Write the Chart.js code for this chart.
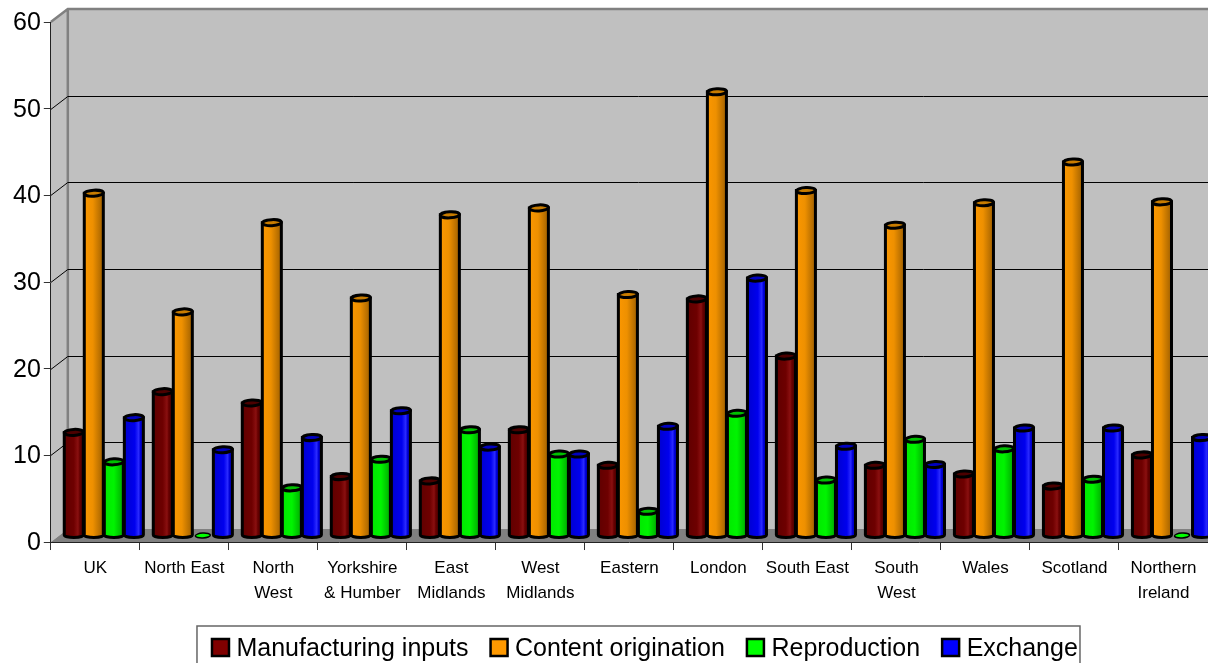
<!DOCTYPE html>
<html>
<head>
<meta charset="utf-8">
<title>Creative industries by region</title>
<script src="https://cdn.jsdelivr.net/npm/chart.js@4/dist/chart.umd.min.js"></script>
<style>
  html, body { margin: 0; padding: 0; background: #fff; overflow: hidden; }
  #wrap { position: relative; width: 1208px; height: 663px; }
</style>
</head>
<body>
<div id="wrap"><canvas id="myChart" width="1208" height="663"></canvas></div>
<script>
var regions = ['UK', 'North East', ['North', 'West'], ['Yorkshire', '& Humber'], ['East', 'Midlands'],
  ['West', 'Midlands'], 'Eastern', 'London', 'South East', ['South', 'West'], 'Wales', 'Scotland', ['Northern', 'Ireland']];
var yTicks = [0, 10, 20, 30, 40, 50, 60];

var manufacturing = [11.9, 16.6, 15.3, 6.8, 6.3, 12.2, 8.1, 27.3, 20.7, 8.1, 7.1, 5.7, 9.3];
var content = [39.5, 25.8, 36.1, 27.4, 37.0, 37.8, 27.8, 51.2, 39.8, 35.8, 38.4, 43.1, 38.5];
var reproduction = [8.5, 0, 5.5, 8.8, 12.2, 9.4, 2.8, 14.1, 6.4, 11.1, 10.0, 6.5, 0];
var exchange = [13.6, 9.9, 11.3, 14.4, 10.2, 9.4, 12.6, 29.7, 10.3, 8.2, 12.4, 12.4, 11.3];

var seriesNames = ['Manufacturing inputs', 'Content origination', 'Reproduction', 'Exchange'];
var seriesColors = ['#800000', '#FF9900', '#00FF00', '#0000FF'];
// colour stops across each cylinder, left to right
var shades = [
  [[0, '#600000'], [0.5, '#6e0000'], [0.72, '#8a1010'], [0.82, '#640000'], [1, '#560000']],
  [[0, '#fb9700'], [0.45, '#ee9000'], [1, '#a06000']],
  [[0, '#00e800'], [0.5, '#00f400'], [1, '#00a800']],
  [[0, '#0000d0'], [0.55, '#0000ee'], [0.75, '#2a2aff'], [0.85, '#0000d8'], [1, '#0000a0']]
];
var capColors = ['#4c0000', '#c87c00', '#00c000', '#0000c0'];

// depth of the 3D box, in pixels
var depthX = 17, depthY = -13;
var barShiftX = 8.5, barShiftY = -6.5;

var wallPlugin = {
  id: 'wall',
  beforeDraw: function (chart) {
    var c = chart.ctx, a = chart.chartArea, y = chart.scales.y;
    c.save();
    c.fillStyle = '#C0C0C0';
    c.fillRect(a.left + depthX, a.top + depthY, a.right - a.left, a.bottom - a.top);
    c.beginPath();
    c.moveTo(a.left, a.top);
    c.lineTo(a.left + depthX, a.top + depthY);
    c.lineTo(a.left + depthX, a.bottom + depthY);
    c.lineTo(a.left, a.bottom);
    c.closePath();
    c.fill();
    // floor
    c.fillStyle = '#808080';
    c.beginPath();
    c.moveTo(a.left, a.bottom);
    c.lineTo(a.left + depthX, a.bottom + depthY);
    c.lineTo(a.right + depthX, a.bottom + depthY);
    c.lineTo(a.right, a.bottom);
    c.closePath();
    c.fill();
    // wall edges
    c.strokeStyle = '#808080';
    c.lineWidth = 2.5;
    c.beginPath();
    c.moveTo(a.left, a.top);
    c.lineTo(a.left + depthX, a.top + depthY);
    c.lineTo(a.right + depthX, a.top + depthY);
    c.moveTo(a.left + depthX, a.top + depthY);
    c.lineTo(a.left + depthX, a.bottom + depthY);
    c.stroke();
    // gridlines
    c.strokeStyle = '#000';
    c.lineWidth = 1;
    yTicks.slice(1, -1).forEach(function (v) {
      var py = Math.round(y.getPixelForValue(v)) + 0.5;
      c.beginPath();
      c.moveTo(a.left, py);
      c.lineTo(a.left + depthX, py + depthY);
      c.lineTo(a.right + depthX, py + depthY);
      c.stroke();
    });
    c.restore();
  },
  afterUpdate: function (chart) {
    // legend sits off centre, over the lower edge of the page
    var lg = chart.legend, sx = 15, sy = 4;
    lg.left += sx; lg.right += sx;
    lg.top += sy; lg.bottom += sy;
    lg.legendHitBoxes.forEach(function (h) { h.left += sx; h.top += sy; });
  },
  afterDraw: function (chart) {
    var c = chart.ctx, boxes = chart.legend.legendHitBoxes;
    c.save();
    c.strokeStyle = '#000';
    c.lineWidth = 2.5;
    boxes.forEach(function (h, i) {
      c.fillStyle = seriesColors[i];
      c.fillRect(h.left + 1, h.top + 2, 17, 17);
      c.strokeRect(h.left + 1, h.top + 2, 17, 17);
    });
    c.strokeStyle = '#666';
    c.lineWidth = 1.5;
    c.strokeRect(boxes[0].left - 14, boxes[0].top - 11, 883, 80);
    c.restore();
  }
};

// rounded shading and elliptical ends on top of each bar
var cylinderPlugin = {
  id: 'cylinder',
  beforeDatasetsDraw: function (chart) {
    chart.ctx.save();
    chart.ctx.translate(barShiftX, barShiftY);
  },
  afterDatasetDraw: function (chart, args) {
    var c = chart.ctx, s = shades[args.index];
    args.meta.data.forEach(function (bar) {
      var p = bar.getProps(['x', 'y', 'width', 'base'], true);
      var rx = p.width / 2 - 0.5, l = p.x - rx, r = p.x + rx;
      var tall = p.base - p.y > 1;
      var g = c.createLinearGradient(l, 0, r, 0);
      s.forEach(function (stop) { g.addColorStop(stop[0], stop[1]); });
      c.save();
      c.lineWidth = 3;
      c.strokeStyle = '#000';
      if (tall) {
        c.beginPath();
        c.moveTo(l, p.y);
        c.lineTo(l, p.base);
        c.ellipse(p.x, p.base, rx, 2.5, 0, Math.PI, 0, true);
        c.lineTo(r, p.y);
        c.closePath();
        c.fillStyle = g;
        c.fill();
        c.stroke();
      }
      c.beginPath();
      c.ellipse(p.x, p.y, tall ? rx : rx - 2, tall ? 3 : 2.4, -0.05, 0, Math.PI * 2);
      c.fillStyle = tall ? capColors[args.index] : seriesColors[args.index];
      c.fill();
      c.lineWidth = tall ? 3 : 1.5;
      c.stroke();
      c.restore();
    });
  },
  afterDatasetsDraw: function (chart) {
    chart.ctx.restore();
  }
};

var ds = [manufacturing, content, reproduction, exchange].map(function (vals, i) {
  return {
    label: seriesNames[i],
    data: vals,
    backgroundColor: seriesColors[i],
    borderWidth: 0,
    clip: false
  };
});

var myChart = new Chart(document.getElementById('myChart').getContext('2d'), {
  type: 'bar',
  data: { labels: regions, datasets: ds },
  plugins: [wallPlugin, cylinderPlugin],
  options: {
    responsive: false,
    animation: false,
    categoryPercentage: 0.9,
    barPercentage: 1,
    layout: { padding: { left: 10, top: 22, right: 0, bottom: -5 } },
    plugins: {
      title: { display: false },
      tooltip: { enabled: false },
      legend: {
        position: 'bottom',
        fullSize: false,
        labels: {
          boxWidth: 13,
          boxHeight: 13,
          padding: 21,
          color: '#000',
          font: { family: '"Liberation Sans", Arial, sans-serif', size: 25 },
          generateLabels: function () {
            return seriesNames.map(function (n, i) {
              return { text: n, fillStyle: 'transparent', strokeStyle: 'transparent', lineWidth: 0, datasetIndex: i };
            });
          }
        }
      }
    },
    scales: {
      x: {
        grid: { drawOnChartArea: false, offset: true, tickLength: 8, color: '#333' },
        border: { color: '#222', width: 1 },
        ticks: {
          autoSkip: false, maxRotation: 0, minRotation: 0, padding: 6, color: '#000',
          font: { family: '"Liberation Sans", Arial, sans-serif', size: 17, lineHeight: 1.47 }
        }
      },
      y: {
        min: 0, max: 60,
        afterBuildTicks: function (axis) {
          axis.ticks = yTicks.map(function (v) { return { value: v }; });
        },
        grid: { drawOnChartArea: false, tickLength: 7, color: '#333' },
        border: { color: '#222', width: 1 },
        ticks: {
          padding: 3, labelOffset: 1, color: '#000',
          font: { family: '"Liberation Sans", Arial, sans-serif', size: 25 }
        }
      }
    }
  }
});
</script>
</body>
</html>
